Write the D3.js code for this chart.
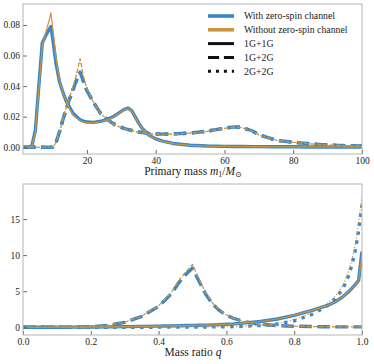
<!DOCTYPE html>
<html><head><meta charset="utf-8">
<script src="https://cdn.jsdelivr.net/npm/d3@7"></script>
<style>body{margin:0;background:#fff}svg{display:block}text{font-family:"Liberation Serif","Times New Roman",serif}</style>
</head><body><svg id="c" width="374" height="364"></svg>
<script>
// ---------- data ----------
const m1Grid = [1.4,2,3,4,5,6,7,8,9,9.5,10,11,12,13,14,15,16,17,18,19,20,22,24,26,28,30,31,32,33,34,35,36,38,40,42,45,50,55,60,63,65,68,70,75,80,85,90,95,100];
const m1_11_with = [0,0,0,0.001,0.011,0.04,0.068,0.073,0.077,0.079,0.072,0.055,0.043,0.036,0.030,0.026,0.022,0.020,0.018,0.017,0.0165,0.0163,0.017,0.0183,0.0205,0.0235,0.025,0.0255,0.024,0.020,0.016,0.0125,0.008,0.0055,0.004,0.0025,0.0013,0.0008,0.0006,0.0005,0.0005,0.0004,0.0004,0.0003,0.0003,0.0002,0.0002,0.0002,0.0002];
const m1_11_without = [0,0,0,0.001,0.010,0.038,0.066,0.075,0.083,0.088,0.079,0.058,0.044,0.036,0.030,0.025,0.021,0.019,0.0175,0.0165,0.016,0.016,0.0167,0.018,0.0203,0.0233,0.0248,0.0253,0.0238,0.0198,0.0158,0.0123,0.0079,0.0054,0.0039,0.0024,0.0013,0.0008,0.0006,0.0005,0.0005,0.0004,0.0004,0.0003,0.0003,0.0002,0.0002,0.0002,0.0002];
const m1_12_with = [0,0,0,0,0,0,0,0,0,0,0,0.003,0.010,0.018,0.025,0.032,0.038,0.044,0.049,0.043,0.037,0.029,0.022,0.018,0.015,0.013,0.0122,0.0115,0.011,0.0105,0.010,0.0097,0.009,0.0087,0.0086,0.0087,0.0093,0.0105,0.0125,0.0133,0.013,0.0108,0.0082,0.0046,0.0033,0.0022,0.0015,0.0011,0.0008];
const m1_12_without = [0,0,0,0,0,0,0,0,0,0,0,0.003,0.010,0.018,0.026,0.033,0.040,0.048,0.058,0.046,0.038,0.029,0.022,0.0178,0.0148,0.0128,0.012,0.0114,0.0109,0.0104,0.0099,0.0096,0.0089,0.0086,0.0085,0.0086,0.0092,0.0104,0.0124,0.0132,0.0129,0.0107,0.0081,0.0046,0.0033,0.0022,0.0015,0.0011,0.0008];
const m1_22_with = [0,0,0,0,0,0,0,0,0,0,0,0.003,0.010,0.018,0.025,0.032,0.038,0.044,0.049,0.043,0.037,0.029,0.022,0.018,0.015,0.013,0.0122,0.0115,0.011,0.0105,0.010,0.0097,0.009,0.0087,0.0086,0.0087,0.0093,0.0105,0.0125,0.0133,0.013,0.0108,0.0082,0.0046,0.0033,0.0022,0.0015,0.0011,0.0008];
const m1_22_without = [0,0,0,0,0,0,0,0,0,0,0,0.003,0.010,0.018,0.026,0.033,0.040,0.048,0.058,0.046,0.038,0.029,0.022,0.0178,0.0148,0.0128,0.012,0.0114,0.0109,0.0104,0.0099,0.0096,0.0089,0.0086,0.0085,0.0086,0.0092,0.0104,0.0124,0.0132,0.0129,0.0107,0.0081,0.0046,0.0033,0.0022,0.0015,0.0011,0.0008];

const qGrid = [0,0.05,0.1,0.15,0.2,0.25,0.3,0.35,0.4,0.42,0.44,0.46,0.48,0.5,0.52,0.54,0.56,0.58,0.6,0.62,0.65,0.7,0.75,0.8,0.85,0.88,0.9,0.92,0.94,0.95,0.96,0.97,0.98,0.99,1.0];
const q_11_with = [0,0.005,0.01,0.02,0.04,0.06,0.09,0.12,0.16,0.18,0.2,0.22,0.24,0.26,0.28,0.3,0.33,0.37,0.42,0.47,0.58,0.8,1.15,1.65,2.3,2.75,3.05,3.5,4.1,4.5,4.9,5.4,5.9,6.5,10.5];
const q_11_without = [0,0.005,0.01,0.02,0.04,0.06,0.09,0.12,0.16,0.18,0.2,0.22,0.24,0.26,0.28,0.3,0.33,0.37,0.42,0.47,0.58,0.8,1.15,1.65,2.3,2.75,3.05,3.5,4.1,4.5,4.9,5.4,5.9,6.5,10.0];
const q_12_with = [0,0,0.01,0.02,0.06,0.25,0.68,1.5,2.9,3.8,4.8,6.2,7.3,8.2,6.3,4.5,3.2,2.3,1.7,1.25,0.8,0.42,0.24,0.15,0.1,0.08,0.07,0.06,0.06,0.05,0.05,0.05,0.05,0.05,0.05];
const q_12_without = [0,0,0.01,0.02,0.06,0.25,0.7,1.55,3.0,3.9,5.0,6.5,7.7,8.7,6.6,4.7,3.3,2.35,1.72,1.26,0.8,0.42,0.24,0.15,0.1,0.08,0.07,0.06,0.06,0.05,0.05,0.05,0.05,0.05,0.05];
const q_22_with = [0,0,0,0,0,0,0.005,0.01,0.015,0.02,0.02,0.025,0.03,0.035,0.04,0.045,0.05,0.06,0.07,0.09,0.13,0.25,0.45,0.9,1.75,2.5,3.1,3.9,5.1,6.0,7.1,8.6,10.6,13.4,17.0];
const q_22_without = [0,0,0,0,0,0,0.005,0.01,0.015,0.02,0.02,0.025,0.03,0.035,0.04,0.045,0.05,0.06,0.07,0.09,0.13,0.26,0.5,1.0,1.95,2.75,3.4,4.25,5.5,6.5,7.7,9.3,11.4,14.4,18.3];

const m1Ticks = [20,40,60,80,100];
const m1YTicks = [0,0.02,0.04,0.06,0.08];
const qTicks = [0,0.2,0.4,0.6,0.8,1.0];
const qYTicks = [0,5,10,15];
const legendLabels = ["With zero-spin channel","Without zero-spin channel","1G+1G","1G+2G","2G+2G"];

// ---------- styles ----------
const BLUE = "#3a87c5", ORANGE = "#c99540";
const BLUE_W = 3.4, OR_W = 1.2;
function dashFor(kind, w){
  if(kind==="solid") return null;
  if(kind==="dashed") return [3.7*w, 1.6*w].join(",");
  return [1*w, 1.65*w].join(",");
}

const svg = d3.select("#c");

function panel(opts){
  const {x0,x1,y0,y1,xDom,yDom,xTicks,yTicks,xFmt,yFmt,grid,series,id} = opts;
  const x = d3.scaleLinear().domain(xDom).range([x0,x1]);
  const y = d3.scaleLinear().domain(yDom).range([y1,y0]);
  svg.append("clipPath").attr("id",id).append("rect").attr("x",x0).attr("y",y0).attr("width",x1-x0).attr("height",y1-y0);
  const g = svg.append("g").attr("clip-path",`url(#${id})`);
  const line = vals => d3.line().x((d,i)=>x(grid[i])).y(d=>y(d))(vals);
  // blue first
  series.forEach(s=>{
    g.append("path").attr("d",line(s.with)).attr("fill","none").attr("stroke",BLUE)
      .attr("stroke-width",BLUE_W).attr("stroke-dasharray",dashFor(s.kind,BLUE_W)).attr("stroke-linejoin","round");
  });
  series.forEach(s=>{
    g.append("path").attr("d",line(s.without)).attr("fill","none").attr("stroke",ORANGE)
      .attr("stroke-width",OR_W).attr("stroke-dasharray",dashFor(s.kind,OR_W)).attr("stroke-linejoin","round");
  });
  // axes
  const ax = svg.append("g").attr("transform",`translate(0,${y1})`)
    .call(d3.axisBottom(x).tickValues(xTicks).tickFormat(xFmt).tickSizeInner(-4).tickSizeOuter(0).tickPadding(3));
  const ay = svg.append("g").attr("transform",`translate(${x0},0)`)
    .call(d3.axisLeft(y).tickValues(yTicks).tickFormat(yFmt).tickSizeInner(-4).tickSizeOuter(0).tickPadding(3));
  [ax,ay].forEach(a=>{
    a.select(".domain").remove();
    a.selectAll(".tick line").attr("stroke","#444").attr("stroke-width",0.8);
    a.selectAll(".tick text").attr("fill","#222").style("font-size","9.5px").style("font-family",'"Liberation Serif",serif');
  });
  svg.append("rect").attr("x",x0).attr("y",y0).attr("width",x1-x0).attr("height",y1-y0)
    .attr("fill","none").attr("stroke","#b5b5b5").attr("stroke-width",1);
  return {x,y};
}

panel({id:"cp1",x0:23,x1:362,y0:4,y1:154,xDom:[1.4,100],yDom:[-0.0044,0.0937],
  xTicks:m1Ticks,yTicks:m1YTicks,xFmt:d3.format("d"),yFmt:d3.format(".2f"),grid:m1Grid,
  series:[{kind:"solid",with:m1_11_with,without:m1_11_without},
          {kind:"dashed",with:m1_12_with,without:m1_12_without},
          {kind:"dotted",with:m1_22_with,without:m1_22_without}]});

panel({id:"cp2",x0:23,x1:362,y0:184,y1:335,xDom:[0,1],yDom:[-1.07,19.85],
  xTicks:qTicks,yTicks:qYTicks,xFmt:d3.format(".1f"),yFmt:d3.format("d"),grid:qGrid,
  series:[{kind:"solid",with:q_11_with,without:q_11_without},
          {kind:"dashed",with:q_12_with,without:q_12_without},
          {kind:"dotted",with:q_22_with,without:q_22_without}]});

// axis labels
const l1 = svg.append("text").attr("x",193).attr("y",175).attr("text-anchor","middle").style("font-size","11.5px").attr("fill","#222");
l1.append("tspan").text("Primary mass ");
l1.append("tspan").style("font-style","italic").text("m");
l1.append("tspan").attr("dy",2).style("font-size","8px").text("1");
l1.append("tspan").attr("dy",-2).text("/");
l1.append("tspan").style("font-style","italic").text("M");
l1.append("tspan").attr("dy",2).style("font-size","8px").style("font-family",'"DejaVu Sans",sans-serif').text("\u2299");
const l2 = svg.append("text").attr("x",193).attr("y",356).attr("text-anchor","middle").style("font-size","11.5px").attr("fill","#222");
l2.append("tspan").text("Mass ratio ");
l2.append("tspan").style("font-style","italic").text("q");

// legend
const legRows = [
  {stroke:BLUE,w:3.6,kind:"solid"},
  {stroke:ORANGE,w:3.6,kind:"solid"},
  {stroke:"#111",w:3,kind:"solid"},
  {stroke:"#111",w:3,kind:"dashed"},
  {stroke:"#111",w:3,kind:"dotted"}];
const lg = svg.append("g");
legRows.forEach((r,i)=>{
  const yy = 16 + i*13.8;
  lg.append("line").attr("x1",208).attr("x2",234).attr("y1",yy).attr("y2",yy)
    .attr("stroke",r.stroke).attr("stroke-width",r.w).attr("stroke-dasharray",dashFor(r.kind,r.w));
  lg.append("text").attr("x",244).attr("y",yy+3.3).style("font-size","9.8px").attr("fill","#222").text(legendLabels[i]);
});
</script></body></html>
